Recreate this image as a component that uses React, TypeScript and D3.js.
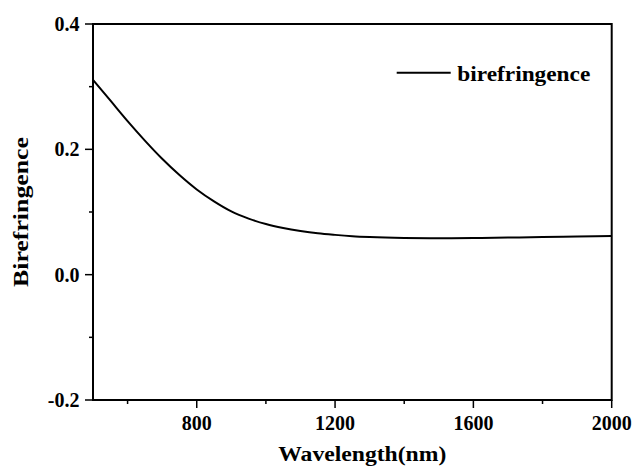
import React from "react";
import * as d3 from "d3";

const wavelengths = [500, 550, 600, 650, 700, 750, 800, 850, 900, 950, 1000, 1050, 1100, 1150, 1200, 1250, 1300, 1400, 1500, 1600, 1700, 1800, 1900, 2000];
const birefringence = [0.311, 0.278, 0.245, 0.214, 0.185, 0.159, 0.136, 0.117, 0.101, 0.0895, 0.0808, 0.0745, 0.0697, 0.066, 0.0635, 0.0615, 0.0602, 0.0587, 0.0582, 0.0585, 0.0592, 0.0601, 0.0609, 0.0616];
const xMajorTicks = [800, 1200, 1600, 2000];
const xMinorTicks = [600, 1000, 1400, 1800];
const yMajorTicks = [0.4, 0.2, 0.0, -0.2];
const yMinorTicks = [0.3, 0.1, -0.1];
const seriesName = "birefringence";
const xTitle = "Wavelength(nm)";
const yTitle = "Birefringence";

const W = 635, H = 466;
const L = 93, R = 611.7, T = 24, B = 400;
const FONT = "Liberation Serif, Times New Roman, Times, serif";

export default function App() {
  const x = d3.scaleLinear().domain([500, 2000]).range([L, R]);
  const y = d3.scaleLinear().domain([-0.2, 0.4]).range([B, T]);
  const pts = wavelengths.map((w, i) => [w, birefringence[i]] as [number, number]);
  const line = d3.line<[number, number]>().x(d => x(d[0])).y(d => y(d[1])).curve(d3.curveMonotoneX);
  const ts: React.CSSProperties = { fontFamily: FONT, fontWeight: 700, fontSize: "20px" };
  return (
    <svg width={W} height={H} style={{ position: "absolute", left: 0, top: 0, background: "#fff" }}>
      <rect x={0} y={0} width={W} height={H} fill="#fff" />
      <path d={line(pts) || ""} fill="none" stroke="#000" strokeWidth={2} />
      <rect x={L} y={T} width={R - L} height={B - T} fill="none" stroke="#000" strokeWidth={2} />
      {xMajorTicks.map(t => (
        <g key={"xm" + t}>
          <line x1={x(t)} x2={x(t)} y1={B} y2={B + 8} stroke="#000" strokeWidth={1.5} />
          <text x={x(t)} y={430} textAnchor="middle" style={ts}>{t}</text>
        </g>
      ))}
      {xMinorTicks.map(t => (
        <line key={"xn" + t} x1={x(t)} x2={x(t)} y1={B} y2={B + 4} stroke="#000" strokeWidth={1.5} />
      ))}
      {yMajorTicks.map(t => (
        <g key={"ym" + t}>
          <line x1={L - 8} x2={L} y1={y(t)} y2={y(t)} stroke="#000" strokeWidth={1.5} />
          <text x={79.5} y={y(t) + 7} textAnchor="end" style={ts}>{t.toFixed(1)}</text>
        </g>
      ))}
      {yMinorTicks.map(t => (
        <line key={"yn" + t} x1={L - 4} x2={L} y1={y(t)} y2={y(t)} stroke="#000" strokeWidth={1.5} />
      ))}
      <text x={278.3} y={461} style={ts} textLength={168} lengthAdjust="spacingAndGlyphs">{xTitle}</text>
      <text transform={`translate(28,${212}) rotate(-90)`} x={0} y={0} textAnchor="middle" style={ts} textLength={150} lengthAdjust="spacingAndGlyphs">{yTitle}</text>
      <line x1={396.7} x2={450.7} y1={72.7} y2={72.7} stroke="#000" strokeWidth={2} />
      <text x={457.3} y={80.7} style={ts} textLength={133} lengthAdjust="spacingAndGlyphs">{seriesName}</text>
    </svg>
  );
}
